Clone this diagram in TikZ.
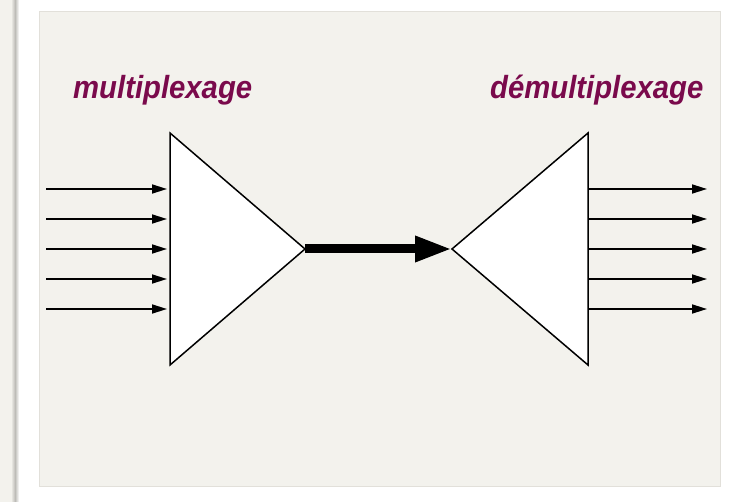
\documentclass[tikz,border=0pt]{standalone}
\usepackage{fontspec}
\setmainfont{Liberation Sans}
\newfontfamily\titlefont[FakeStretch=0.915]{Liberation Sans}
\usetikzlibrary{arrows.meta}
\definecolor{panel}{HTML}{F3F2ED}
\definecolor{panelline}{HTML}{E2E0DA}
\definecolor{shadow}{HTML}{BDBCB7}
\definecolor{titlecol}{HTML}{7A0A4C}
\begin{document}
\begin{tikzpicture}[x=1pt,y=-1pt,
  sig/.style={draw=black,line width=1.7pt,-{Triangle[length=15pt,width=9pt]}},
  trunk/.style={draw=black,line width=9pt,-{Triangle[length=37pt,width=24pt]}},
  mux/.style={draw=black,line width=1.5pt,fill=white,line join=miter},
  title/.style={font=\titlefont\fontsize{32}{34}\selectfont\bfseries\itshape,text=titlecol,inner sep=0pt,anchor=base west}]
\useasboundingbox (0,0) rectangle (743,502);
\fill[white] (0,0) rectangle (743,502);
\fill[panel] (0,0) rectangle (12,502);
\shade[left color=panel,right color=shadow] (11,0) rectangle (15,502);
\shade[left color=shadow,right color=white] (15,0) rectangle (19,502);
\filldraw[fill=panel,draw=panelline,line width=0.8pt] (39,11) rectangle (720,486);
% titles
\node[title] (t1) at (73,99) {multiplexage};
\node[title] (t2) at (490,99) {démultiplexage};
% multiplexer triangles
\coordinate (ma) at (170,133);
\coordinate (mb) at (170,365);
\coordinate (mc) at (305,249);
\coordinate (da) at (588,133);
\coordinate (db) at (588,365);
\coordinate (dc) at (452,249);
\draw[mux] (ma) -- (mc) -- (mb) -- cycle;
\draw[mux] (da) -- (dc) -- (db) -- cycle;
% trunk
\draw[trunk] (mc) -- (dc);
% inputs and outputs
\foreach \i/\y in {1/189,2/219,3/249,4/279,5/309}{
  \coordinate (in\i) at (46,\y);
  \coordinate (mi\i) at (167,\y);
  \coordinate (do\i) at (588,\y);
  \coordinate (out\i) at (707,\y);
  \draw[sig] (in\i) -- (mi\i);
  \draw[sig] (do\i) -- (out\i);
}
\end{tikzpicture}
\end{document}
